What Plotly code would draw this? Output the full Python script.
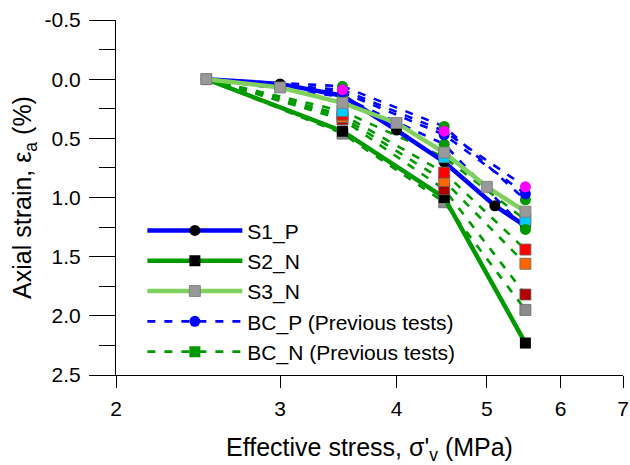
import plotly.graph_objects as go

# ---------------- data ----------------
s1_x = [2.5, 3.0, 3.5, 4.0, 4.5, 5.1, 5.5]
s1_y = [0.0, 0.04, 0.14, 0.43, 0.70, 1.07, 1.24]

s2_x = [2.5, 3.5, 4.5, 5.5]
s2_y = [0.0, 0.44, 1.00, 2.23]

s3_x = [2.5, 3.0, 3.5, 4.0, 4.5, 5.0, 5.5]
s3_y = [0.0, 0.07, 0.20, 0.37, 0.62, 0.91, 1.12]

prev_x = [2.5, 3.5, 4.5, 5.5]
# previous tests, BC_P (blue dashed, circles)
bcp_tests = [
    ("#ff00ff", [0.0, 0.09, 0.44, 0.91]),
    ("#0000ff", [0.0, 0.11, 0.47, 0.97]),
    ("#009a00", [0.0, 0.06, 0.40, 1.02]),
    ("#009a00", [0.0, 0.15, 0.55, 1.27]),
]
# previous tests, BC_N (green dashed, squares)
bcn_tests = [
    ("#00ccff", [0.0, 0.27, 0.66, 1.19]),
    ("#ff0000", [0.0, 0.30, 0.79, 1.44]),
    ("#ff6600", [0.0, 0.32, 0.86, 1.56]),
    ("#b00000", [0.0, 0.34, 0.93, 1.82]),
    ("#8c8c8c", [0.0, 0.46, 1.04, 1.95]),
]

x_ticks = [2, 3, 4, 5, 6, 7]
y_ticks = [-0.5, 0.0, 0.5, 1.0, 1.5, 2.0, 2.5]
y_minor = [-0.25, 0.25, 0.75, 1.25, 1.75, 2.25]

BLUE = "#0000ff"
GREEN = "#009a00"
LGREEN = "#80d060"
GRAY = "#999999"
FONT = "Liberation Sans, Arial, sans-serif"
DASH = "8px,9px"

fig = go.Figure()

# previous test lines
for col, ys in bcp_tests:
    fig.add_trace(go.Scatter(x=prev_x, y=ys, mode="lines", showlegend=False,
                             line=dict(color=BLUE, width=2.6, dash=DASH)))
for col, ys in bcn_tests:
    fig.add_trace(go.Scatter(x=prev_x, y=ys, mode="lines", showlegend=False,
                             line=dict(color=GREEN, width=2.6, dash=DASH)))

# S1_P
fig.add_trace(go.Scatter(x=s1_x, y=s1_y, mode="lines+markers", name="S1_P",
                         legendrank=1, legendgroup="a",
                         line=dict(color=BLUE, width=4.5),
                         marker=dict(symbol="circle", size=11, color="black")))

# gray previous test markers (under S2_N)
col, ys = bcn_tests[4]
fig.add_trace(go.Scatter(x=prev_x[1:], y=ys[1:], mode="markers", showlegend=False,
                         marker=dict(symbol="square", size=11, color=col,
                                     line=dict(color="#666666", width=0.8))))

# S2_N
fig.add_trace(go.Scatter(x=s2_x, y=s2_y, mode="lines+markers", name="S2_N",
                         legendrank=2, legendgroup="b",
                         line=dict(color=GREEN, width=4.5),
                         marker=dict(symbol="square", size=11, color="black")))

# other previous test markers
for col, ys in bcn_tests[:4][::-1]:
    fig.add_trace(go.Scatter(x=prev_x[1:], y=ys[1:], mode="markers", showlegend=False,
                             marker=dict(symbol="square", size=11, color=col,
                                         line=dict(color="#666666", width=0.8))))
for col, ys in bcp_tests[::-1]:
    fig.add_trace(go.Scatter(x=prev_x[1:], y=ys[1:], mode="markers", showlegend=False,
                             marker=dict(symbol="circle", size=11, color=col)))

# S3_N
fig.add_trace(go.Scatter(x=s3_x, y=s3_y, mode="lines+markers", name="S3_N",
                         legendrank=3, legendgroup="c",
                         line=dict(color=LGREEN, width=4.5),
                         marker=dict(symbol="square", size=11, color=GRAY,
                                     line=dict(color="#777777", width=0.8))))

# legend-only entries
fig.add_trace(go.Scatter(x=[None], y=[None], mode="lines+markers",
                         name="BC_P (Previous tests)", legendrank=4, legendgroup="d",
                         line=dict(color=BLUE, width=2.6, dash=DASH),
                         marker=dict(symbol="circle", size=11, color=BLUE)))
fig.add_trace(go.Scatter(x=[None], y=[None], mode="lines+markers",
                         name="BC_N (Previous tests)", legendrank=5, legendgroup="e",
                         line=dict(color=GREEN, width=2.6, dash=DASH),
                         marker=dict(symbol="square", size=11, color=GREEN)))

fig.update_layout(
    width=630, height=465,
    margin=dict(l=116, r=7, t=20, b=90),
    paper_bgcolor="white", plot_bgcolor="white",
    font=dict(family=FONT, size=21, color="black"),
    showlegend=True,
    legend=dict(x=0.052, y=0.464, xanchor="left", yanchor="top",
                bgcolor="rgba(0,0,0,0)", font=dict(size=21),
                tracegroupgap=0, itemwidth=95, traceorder="grouped"),
    xaxis=dict(type="log", range=[0.30103, 0.845098], automargin=False,
               tickvals=x_ticks, ticktext=[str(v) for v in x_ticks],
               showgrid=False, zeroline=False, showline=True, linecolor="black",
               linewidth=1, ticks="outside", ticklen=12, tickcolor="black",
               ticklabelstandoff=3,
               title=dict(text="Effective stress, σ'<sub>v</sub> (MPa)", standoff=29),
               tickfont=dict(size=21)),
    yaxis=dict(range=[2.5, -0.5], automargin=False,
               tickvals=y_ticks, ticktext=["%.1f" % v for v in y_ticks],
               showgrid=False, zeroline=False, showline=True, linecolor="black",
               linewidth=1, ticks="outside", ticklen=26, tickcolor="black",
               ticklabelstandoff=4,
               minor=dict(tickvals=y_minor,
                          ticks="outside", ticklen=16, tickcolor="black", showgrid=False),
               title=dict(text="Axial strain, ε<sub>a</sub> (%)", standoff=5),
               tickfont=dict(size=21)),
)

fig.write_html("out.html")
